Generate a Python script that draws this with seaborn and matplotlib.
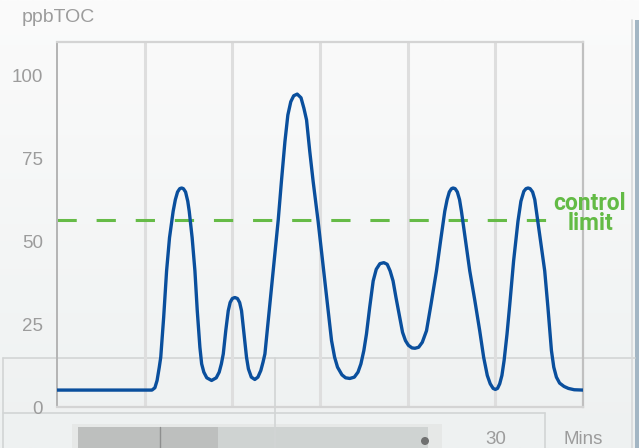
import numpy as np
import pandas as pd
import matplotlib
matplotlib.use("Agg")
import matplotlib.pyplot as plt
from matplotlib.patches import Rectangle, Circle
import seaborn as sns

# ---------------------------------------------------------------------------
# DATA
# ---------------------------------------------------------------------------
minutes = [0, 6.5, 6.7, 6.85, 7.0, 7.1, 7.3, 7.5, 7.7, 7.95, 8.1, 8.25, 8.4, 8.53,
           8.65, 8.8, 8.95, 9.05, 9.25, 9.44, 9.6, 9.78, 9.9, 10.05, 10.25, 10.58,
           10.9, 11.1, 11.25, 11.38, 11.55, 11.72, 11.85, 12.0, 12.17, 12.35, 12.5,
           12.63, 12.8, 12.97, 13.1, 13.3, 13.54, 13.75, 13.95, 14.1, 14.23, 14.5,
           14.8, 15.14, 15.36, 15.6, 15.8, 16.0, 16.2, 16.44, 16.7, 16.9, 17.08,
           17.3, 17.53, 17.87, 18.33, 18.79, 19.0, 19.2, 19.5, 19.75, 20.04, 20.35,
           20.6, 20.8, 21.0, 21.18, 21.4, 21.64, 21.85, 22.1, 22.37, 22.6, 22.8,
           23.0, 23.2, 23.46, 23.65, 23.85, 24.05, 24.3, 24.5, 24.75, 25.0, 25.29,
           25.6, 25.97, 26.25, 26.54, 26.7, 26.85, 27.0, 27.11, 27.25, 27.4, 27.55,
           27.68, 28.0, 28.25, 28.6, 28.93, 29.2, 29.45, 29.65, 29.85, 30.0, 30.15,
           30.3, 30.45, 30.6, 30.8, 30.99, 31.25, 31.55, 31.75, 31.95, 32.1, 32.24,
           32.38, 32.55, 32.7, 32.81, 33.1, 33.38, 33.6, 33.84, 34.0, 34.18, 34.4,
           34.7, 35.0, 35.4, 36]
ppb_toc = [5.1, 5.1, 5.8, 8, 12, 15, 27, 41, 51, 59, 62.5, 64.8, 65.8, 66,
           65.8, 64.8, 62, 59, 51, 41, 29, 18, 13, 10.5, 8.8, 8,
           8.8, 10.5, 13, 16, 23, 29, 31.5, 32.7, 33, 32.7, 31.5,
           29, 22, 15, 11.5, 9, 8.3, 9, 11, 13.5, 16, 28,
           41, 56.3, 68, 80, 88, 92, 93.8, 94.3, 93.2, 90, 86.5,
           77, 68, 56, 38, 20, 15, 12, 9.7, 8.8, 8.6, 9,
           10.5, 13, 17, 22, 30, 38, 41.5, 43.2, 43.5, 43, 41,
           38, 33, 27, 22.5, 20, 18.6, 17.8, 17.7, 18, 19.5, 23,
           31, 41, 50, 59, 62.5, 64.8, 65.8, 66, 65.8, 64.8, 62.5,
           59, 49, 41, 32, 23, 15, 9.5, 7, 5.6, 5.3, 5.6,
           7, 9.5, 14, 22, 31, 44, 56, 62, 65, 65.8, 66,
           65.8, 64.8, 62.5, 59, 50, 41, 30, 17, 12, 9, 7.2,
           6.2, 5.6, 5.2, 5.1]
control_limit = 56.3
limit_end = 34.4
grid_minutes = [6, 12, 18, 24, 30]
x_ticks = [0, 6, 12, 18, 24, 30, 36]
x_labels = ["", "", "", "", "", "30", "Mins"]
y_ticks = [0, 25, 50, 75, 100]

df = pd.DataFrame({"minutes": minutes, "ppbTOC": ppb_toc})

sns.set_style("white")
plt.rcParams["font.family"] = ["Liberation Sans", "DejaVu Sans"]

W, H = 639, 448
fig = plt.figure(figsize=(W / 100, H / 100), dpi=100)

# ---------------------------------------------------------------------------
# background panel (pixel coords)
# ---------------------------------------------------------------------------
bg = fig.add_axes([0, 0, 1, 1], zorder=0)
bg.set_xlim(0, W)
bg.set_ylim(H, 0)
bg.axis("off")
grad = np.linspace(0, 1, 256)[:, None]
bg.imshow(grad, extent=[0, W, H, 0], aspect="auto",
          cmap=matplotlib.colors.LinearSegmentedColormap.from_list("g", ["#fbfbfb", "#eef1f1"]))
line_c = "#d2d5d5"
bg.plot([3, 635], [358, 358], color=line_c, lw=1.2)
bg.plot([3, 3], [358, H], color=line_c, lw=1.2)
bg.plot([275, 275], [358, H], color=line_c, lw=1.2)
bg.plot([3, 545], [413, 413], color=line_c, lw=1.2)
bg.plot([545, 545], [413, H], color=line_c, lw=1.2)
bg.plot([632, 632], [20, H], color="#d8dadb", lw=1.2)
bg.add_patch(Rectangle((635, 20), 4, H - 20, color="#a3b6c4", lw=0))
# blurred instrument photo strip
bg.add_patch(Rectangle((72, 424), 370, 24, color="#e6e8e7", lw=0))
bg.add_patch(Rectangle((78, 427), 140, 21, color="#bdbfbe", lw=0))
bg.add_patch(Rectangle((218, 427), 210, 21, color="#cfd3d2", lw=0))
bg.plot([160, 160], [427, H], color="#8e8f8f", lw=1)
bg.add_patch(Circle((425, 441), 4, color="#6f7070", lw=0))

# ---------------------------------------------------------------------------
# main chart
# ---------------------------------------------------------------------------
ax = fig.add_axes([57 / W, (H - 407) / H, 526 / W, 365 / H], zorder=1)
ax.set_facecolor("none")
for m in grid_minutes:
    ax.axvline(m, color="#dedede", lw=2.2, zorder=1)

ax.plot([0, limit_end], [control_limit, control_limit], color="#66bb47", lw=2.2,
        dashes=(6.3, 6.5), zorder=2)
sns.lineplot(data=df, x="minutes", y="ppbTOC", ax=ax, color="#0a4f9d", lw=2.4,
             zorder=3)

ax.set_xlim(0, 36)
ax.set_ylim(0, 110)
ax.set_xticks(x_ticks)
ax.set_xticklabels(x_labels)
ax.set_yticks(y_ticks)
ax.set_xlabel("")
ax.set_ylabel("")

for side in ["top", "bottom", "right"]:
    ax.spines[side].set_color("#d4d4d4")
    ax.spines[side].set_linewidth(1.6)
ax.spines["left"].set_color("#b4b4b4")
ax.spines["left"].set_linewidth(1.4)
ax.spines["right"].set_color("#c0c0c0")

ax.tick_params(axis="y", length=5, width=1.8, color="#b4b4b4", pad=5,
               labelsize=13.5, labelcolor="#9c9c9c")
ax.tick_params(axis="x", length=5, width=1.8, color="#cfcfcf", pad=12,
               labelsize=13.5, labelcolor="#9c9c9c")

ax.text(36.48, 58.3, "control\nlimit", color="#63bb45", fontsize=16.5,
        fontweight="bold", ha="center", va="center", linespacing=0.88,
        family=["Roboto", "DejaVu Sans"], clip_on=False, zorder=4)

fig.text(22 / W, 1 - 18 / H, "ppbTOC", color="#9c9c9c", fontsize=14,
         ha="left", va="center")

fig.savefig("out.png", dpi=100)
